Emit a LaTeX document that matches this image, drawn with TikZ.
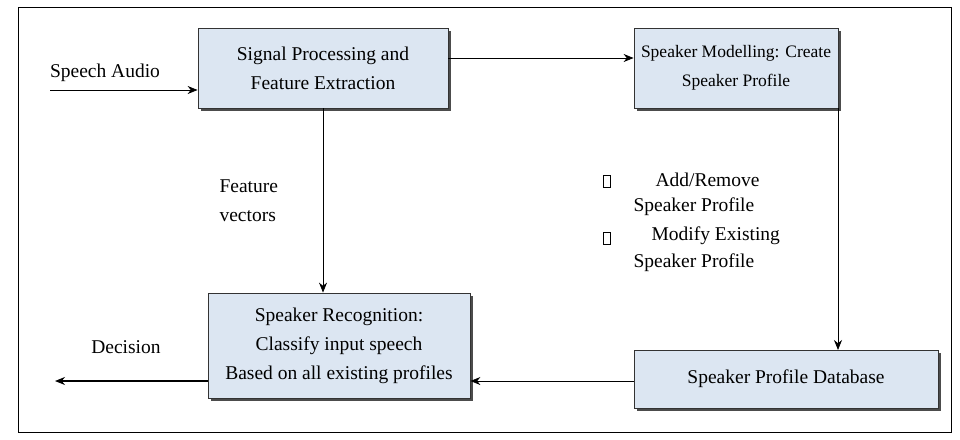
\documentclass[tikz,border=0pt]{standalone}
\usepackage{fontspec}
\setmainfont{Liberation Serif}
\usetikzlibrary{arrows.meta,shadows}
\begin{document}
\begin{tikzpicture}[x=1pt,y=-1pt,
  box/.style={draw=black!80,fill={rgb,255:red,220;green,230;blue,242},line width=0.8pt,
    drop shadow={shadow xshift=2.5pt,shadow yshift=-2.5pt,fill=black!70,opacity=1}},
  arr/.style={-{Stealth[length=10pt,width=8pt]},line width=0.8pt},
  txt/.style={font=\fontsize{19.5}{29}\selectfont,align=center},
  bul/.style={draw,line width=0.5pt,minimum width=7pt,minimum height=12pt,inner sep=0pt}]
\useasboundingbox (0,0) rectangle (960,439);
\draw[line width=0.8pt] (18,7) rectangle (951,432);
\node[box,minimum width=250pt,minimum height=80pt] (b1) at (323,68) {};
\node[txt] at (b1) {Signal Processing and\\Feature Extraction};
\node[box,minimum width=204pt,minimum height=80pt] (b2) at (736,68) {};
\node[txt,font=\fontsize{17.5}{29}\selectfont] at (b2) {Speaker Modelling: Create\\Speaker Profile};
\node[box,minimum width=262pt,minimum height=105pt] (b3) at (339,345.5) {};
\node[txt] at (b3) {Speaker Recognition:\\Classify input speech\\Based on all existing profiles};
\node[box,minimum width=304pt,minimum height=58pt] (b4) at (786,379) {};
\node[txt] at (b4) {Speaker Profile Database};
\coordinate (in) at (50,90);
\coordinate (out) at (55,381);
\draw[arr] (in) -- (in -| b1.west);
\node[txt] (sa) at (105,73) {Speech Audio};
\draw[arr] ([yshift=10pt]b1.east) -- ([yshift=10pt]b1.east -| b2.west);
\draw[arr] (b1.south) -- (b1.south |- b3.north);
\draw[arr] (838,108) -- (838,350);
\draw[arr] (b4.west |- 0,381) -- (b3.east |- 0,381);
\draw[arr,line width=1.2pt] (b3.west |- 0,381) -- (out);
\node[txt,align=left,anchor=north west] (fv) at (216,176) {Feature\\vectors};
\node[txt] (dec) at (126,347) {Decision};
\node[bul] (k1) at (607,181) {};
\node[bul] (k2) at (607,238) {};
\node[txt,anchor=west] (t1) at (652,180) {Add/Remove};
\node[txt,anchor=west] (t2) at (630,207) {Speaker Profile};
\node[txt,anchor=west] (t3) at (648,236) {Modify Existing};
\node[txt,anchor=west] (t4) at (630,263) {Speaker Profile};
\end{tikzpicture}
\end{document}
